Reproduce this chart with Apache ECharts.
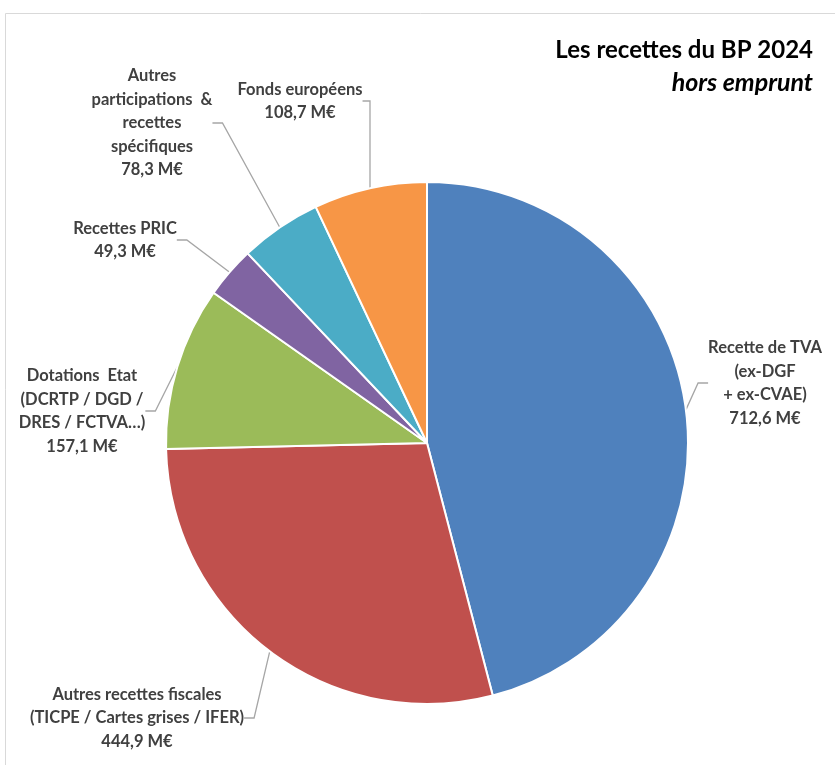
<!DOCTYPE html>
<html>
<head>
<meta charset="utf-8">
<script src="https://cdn.jsdelivr.net/npm/echarts@6/dist/echarts.min.js"></script>
<style>
  html, body { margin: 0; padding: 0; background: #fff; }
  #main { width: 835px; height: 765px; }
</style>
</head>
<body>
<div id="main"></div>
<script>
// données du BP 2024 (M€)
const labels = [
  'Recette de TVA\n(ex-DGF\n+ ex-CVAE)',
  'Autres recettes fiscales\n(TICPE / Cartes grises / IFER)',
  'Dotations  Etat\n(DCRTP / DGD /\nDRES / FCTVA…)',
  'Recettes PRIC',
  'Autres\nparticipations  &\nrecettes\nspécifiques',
  'Fonds européens'
]
const values = [712.6, 444.9, 157.1, 49.3, 78.3, 108.7]
const colors = ['#4F81BD', '#C0504D', '#9BBB59', '#8064A2', '#4BACC6', '#F79646']
// centre des étiquettes
const labelPos = [[765, 383], [137, 718], [82, 411], [125, 240], [152, 123], [300, 101]]

const fmt = v => v.toFixed(1).replace('.', ',') + ' M€'

const myChart = echarts.init(document.getElementById('main'))
myChart.setOption({
  animation: false,
  textStyle: { fontFamily: 'Lato' },
  graphic: [{
    type: 'rect',
    shape: { x: 5.5, y: 13.5, width: 900, height: 900 },
    style: { fill: 'none', stroke: '#d9d9d9', lineWidth: 1 }
  }],
  title: [
    {
      text: 'Les recettes du BP 2024',
      right: 17, top: 33,
      textStyle: { fontSize: 24, fontWeight: 'bold', color: '#000', fontFamily: 'Lato' }
    },
    {
      text: 'hors emprunt',
      right: 17, top: 65,
      textStyle: { fontSize: 25, fontWeight: 'bold', fontStyle: 'italic', color: '#000', fontFamily: 'Lato' }
    }
  ],
  series: [{
    type: 'pie',
    center: [427, 443],
    radius: 261,
    startAngle: 90,
    clockwise: true,
    itemStyle: { borderColor: '#fff', borderWidth: 2 },
    label: {
      show: true,
      color: '#404040',
      fontSize: 16.5,
      fontWeight: 'bold',
      lineHeight: 23.5,
      align: 'center',
      overflow: 'none',
      formatter: p => p.name + '\n' + fmt(p.value)
    },
    labelLine: {
      show: true,
      length: 15,
      length2: 10,
      lineStyle: { color: '#a6a6a6', width: 1.3 }
    },
    labelLayout: p => ({
      x: labelPos[p.dataIndex][0],
      y: labelPos[p.dataIndex][1],
      align: 'center',
      verticalAlign: 'middle'
    }),
    data: values.map((v, i) => ({ name: labels[i], value: v, itemStyle: { color: colors[i] } }))
  }]
})
</script>
</body>
</html>
